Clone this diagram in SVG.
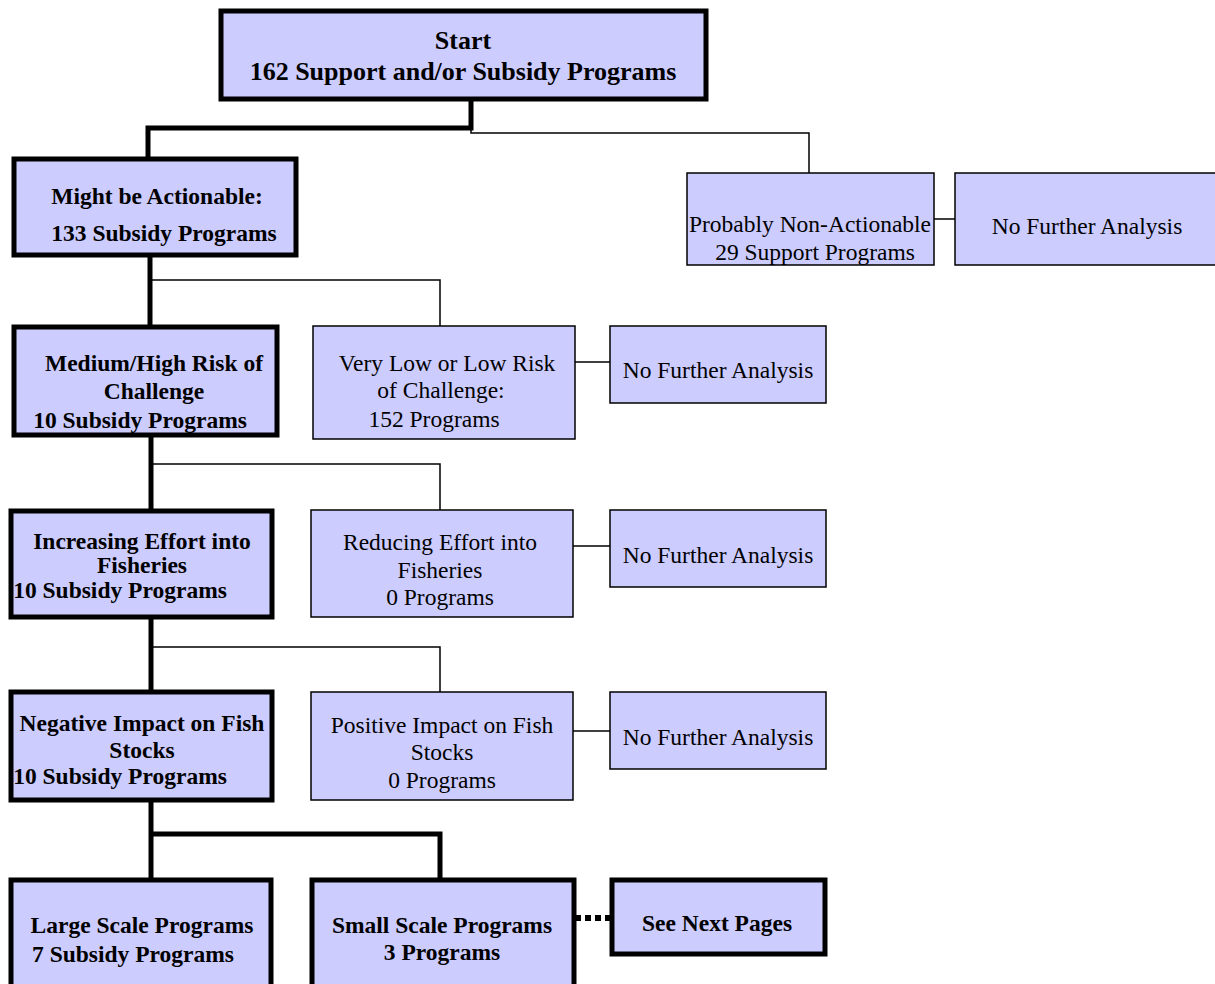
<svg xmlns="http://www.w3.org/2000/svg" width="1215" height="984" viewBox="0 0 1215 984">
<style>
.thick{fill:#CCCCFF;stroke:#000;stroke-width:5}
.thin{fill:#CCCCFF;stroke:#000;stroke-width:1.5}
.b{font-family:"Liberation Serif","Times New Roman",serif;font-weight:bold;font-size:23.5px;fill:#000;text-anchor:middle}
.n{font-family:"Liberation Serif","Times New Roman",serif;font-size:23.5px;fill:#000;text-anchor:middle}
.big{font-size:26px}
.ct{fill:none;stroke:#000;stroke-width:5}
.cn{fill:none;stroke:#000;stroke-width:1.5}
</style>
<rect width="1215" height="984" fill="#fff"/>
<g id="connectors">
<path class="ct" d="M471,100 V128 H148 V157"/>
<path class="cn" d="M471,128 V133 H809 V173"/>
<path class="cn" d="M934,219 H955"/>
<path class="ct" d="M150,256 V325"/>
<path class="cn" d="M150,280 H440 V326"/>
<path class="cn" d="M575,362 H610"/>
<path class="ct" d="M151,436 V509"/>
<path class="cn" d="M151,464 H440 V510"/>
<path class="cn" d="M573,546 H610"/>
<path class="ct" d="M151,618 V690"/>
<path class="cn" d="M151,647 H440 V692"/>
<path class="cn" d="M573,731 H610"/>
<path class="ct" d="M151,801 V878"/>
<path class="ct" d="M151,834 H440 V878"/>
<path fill="none" stroke="#000" stroke-width="6" stroke-dasharray="6,4" d="M575,918 H610"/>
</g>
<g id="start">
<rect class="thick" x="221" y="11" width="485" height="88"/>
<text class="b big" x="463" y="49">Start</text>
<text class="b big" x="463" y="80">162 Support and/or Subsidy  Programs</text>
</g>
<g id="might">
<rect class="thick" x="14" y="159" width="282" height="96"/>
<text class="b" x="157" y="204">Might be Actionable:</text>
<text class="b" x="164" y="241">133 Subsidy Programs</text>
</g>
<g id="nonactionable">
<rect class="thin" x="687" y="173" width="247" height="92"/>
<text class="n" x="810" y="232">Probably Non-Actionable</text>
<text class="n" x="815" y="260">29 Support Programs</text>
</g>
<g id="nfa1">
<rect class="thin" x="955" y="173" width="262" height="92"/>
<text class="n" x="1087" y="234">No Further Analysis</text>
</g>
<g id="medium">
<rect class="thick" x="14" y="327" width="263" height="108"/>
<text class="b" x="154" y="371">Medium/High Risk of</text>
<text class="b" x="154" y="399">Challenge</text>
<text class="b" x="140" y="428">10 Subsidy Programs</text>
</g>
<g id="verylow">
<rect class="thin" x="313" y="326" width="262" height="113"/>
<text class="n" x="447" y="371">Very Low or Low Risk</text>
<text class="n" x="441" y="398">of Challenge:</text>
<text class="n" x="434" y="427">152 Programs</text>
</g>
<g id="nfa2">
<rect class="thin" x="610" y="326" width="216" height="77"/>
<text class="n" x="718" y="378">No Further Analysis</text>
</g>
<g id="increasing">
<rect class="thick" x="11" y="511" width="261" height="106"/>
<text class="b" x="142" y="549">Increasing Effort into</text>
<text class="b" x="142" y="573">Fisheries</text>
<text class="b" x="120" y="598">10 Subsidy Programs</text>
</g>
<g id="reducing">
<rect class="thin" x="311" y="510" width="262" height="107"/>
<text class="n" x="440" y="550">Reducing Effort into</text>
<text class="n" x="440" y="578">Fisheries</text>
<text class="n" x="440" y="605">0 Programs</text>
</g>
<g id="nfa3">
<rect class="thin" x="610" y="510" width="216" height="77"/>
<text class="n" x="718" y="563">No Further Analysis</text>
</g>
<g id="negative">
<rect class="thick" x="11" y="692" width="261" height="108"/>
<text class="b" x="142" y="731">Negative Impact on Fish</text>
<text class="b" x="142" y="758">Stocks</text>
<text class="b" x="120" y="784">10 Subsidy Programs</text>
</g>
<g id="positive">
<rect class="thin" x="311" y="692" width="262" height="108"/>
<text class="n" x="442" y="733">Positive Impact on Fish</text>
<text class="n" x="442" y="760">Stocks</text>
<text class="n" x="442" y="788">0 Programs</text>
</g>
<g id="nfa4">
<rect class="thin" x="610" y="692" width="216" height="77"/>
<text class="n" x="718" y="745">No Further Analysis</text>
</g>
<g id="large">
<rect class="thick" x="11" y="880" width="260" height="110"/>
<text class="b" x="142" y="933">Large Scale Programs</text>
<text class="b" x="133" y="962">7 Subsidy Programs</text>
</g>
<g id="small">
<rect class="thick" x="312" y="880" width="262" height="110"/>
<text class="b" x="442" y="933">Small Scale Programs</text>
<text class="b" x="442" y="960">3 Programs</text>
</g>
<g id="seenext">
<rect class="thick" x="612" y="880" width="213" height="74"/>
<text class="b" x="717" y="931">See Next Pages</text>
</g>
</svg>
